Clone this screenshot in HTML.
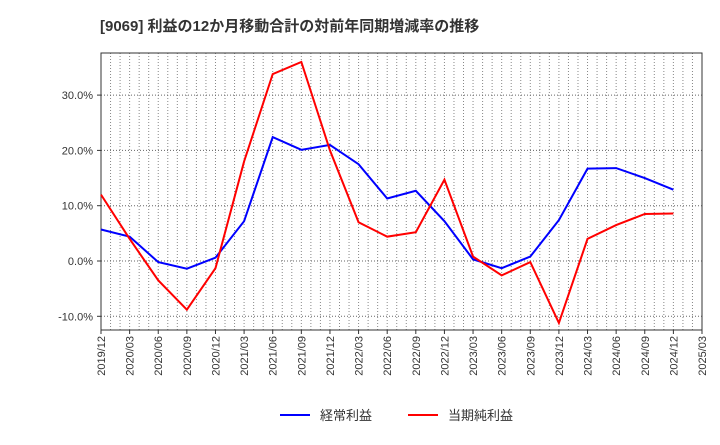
<!DOCTYPE html>
<html><head><meta charset="utf-8"><style>
body{margin:0;background:#fff;font-family:"Liberation Sans","Noto Sans CJK JP",sans-serif}
</style></head><body>
<svg width="720" height="440" xmlns="http://www.w3.org/2000/svg">
<text x="100" y="31" font-size="15" font-weight="bold" fill="#333">[9069]  利益の12か月移動合計の対前年同期増減率の推移</text>
<g id="grid"></g>
<g id="axes"></g>
<g id="series"></g>
<g id="legend">
<line x1="280" y1="415" x2="310" y2="415" stroke="#0000ff" stroke-width="2"/>
<text x="320" y="420" font-size="13" fill="#333">経常利益</text>
<line x1="408" y1="415" x2="438" y2="415" stroke="#ff0000" stroke-width="2"/>
<text x="448" y="420" font-size="13" fill="#333">当期純利益</text>
</g>
</svg>
<script>
const categories=["2019/12","2020/03","2020/06","2020/09","2020/12","2021/03","2021/06","2021/09","2021/12","2022/03","2022/06","2022/09","2022/12","2023/03","2023/06","2023/09","2023/12","2024/03","2024/06","2024/09","2024/12","2025/03"];
const ordinaryProfit=[5.7,4.4,-0.2,-1.4,0.6,7.2,22.4,20.1,21.0,17.5,11.3,12.7,7.2,0.3,-1.3,0.8,7.4,16.7,16.8,15.0,12.9];
const netProfit=[12.0,4.0,-3.5,-8.8,-1.3,18.0,33.8,36.0,20.0,7.0,4.4,5.2,14.7,0.8,-2.6,-0.2,-11.2,4.0,6.5,8.5,8.6];
const yTicks=[-10,0,10,20,30];
const L=101,R=702,T=53,B=330;
const xs=i=>L+i*(R-L)/(categories.length-1);
const ys=v=>261-v*5.53;
const NS="http://www.w3.org/2000/svg";
function mk(tag,attrs,parent){const e=document.createElementNS(NS,tag);for(const k in attrs)e.setAttribute(k,attrs[k]);document.getElementById(parent).appendChild(e);return e;}
for(let m=1;m<(categories.length-1)*3;m++){const x=L+m*(R-L)/((categories.length-1)*3);
const g=mk('line',{x1:x,y1:T,x2:x,y2:B,stroke:'#888','stroke-dasharray':'1,2','stroke-width':1},'grid');

}
yTicks.forEach(v=>{const y=ys(v);
const g=mk('line',{x1:L,y1:y,x2:R,y2:y,stroke:'#666','stroke-dasharray':'1,2','stroke-width':1},'grid');


const t=mk('text',{x:L-8,y:y+4,'text-anchor':'end','font-size':11,fill:'#333'},'axes');t.textContent=v.toFixed(1)+'%';


mk('line',{x1:L-4,y1:y,x2:L,y2:y,stroke:'#333'},'axes');});
categories.forEach((c,i)=>{const x=xs(i);
const t=mk('text',{x:x+4,y:B+6,'text-anchor':'end','font-size':11,fill:'#333',transform:`rotate(-90 ${x+4} ${B+6})`},'axes');t.textContent=c;


mk('line',{x1:x,y1:B,x2:x,y2:B+4,stroke:'#333'},'axes');});
const fr=mk('rect',{x:L,y:T,width:R-L,height:B-T,fill:'none',stroke:'#333','stroke-width':1},'axes');


[[ordinaryProfit,'#0000ff','line-ordinary-profit'],[netProfit,'#ff0000','line-net-profit']].forEach(([d,c,n])=>{
const p=mk('polyline',{points:d.map((v,i)=>xs(i)+','+ys(v)).join(' '),fill:'none',stroke:c,'stroke-width':2},'series');

});
</script>
</body></html>
